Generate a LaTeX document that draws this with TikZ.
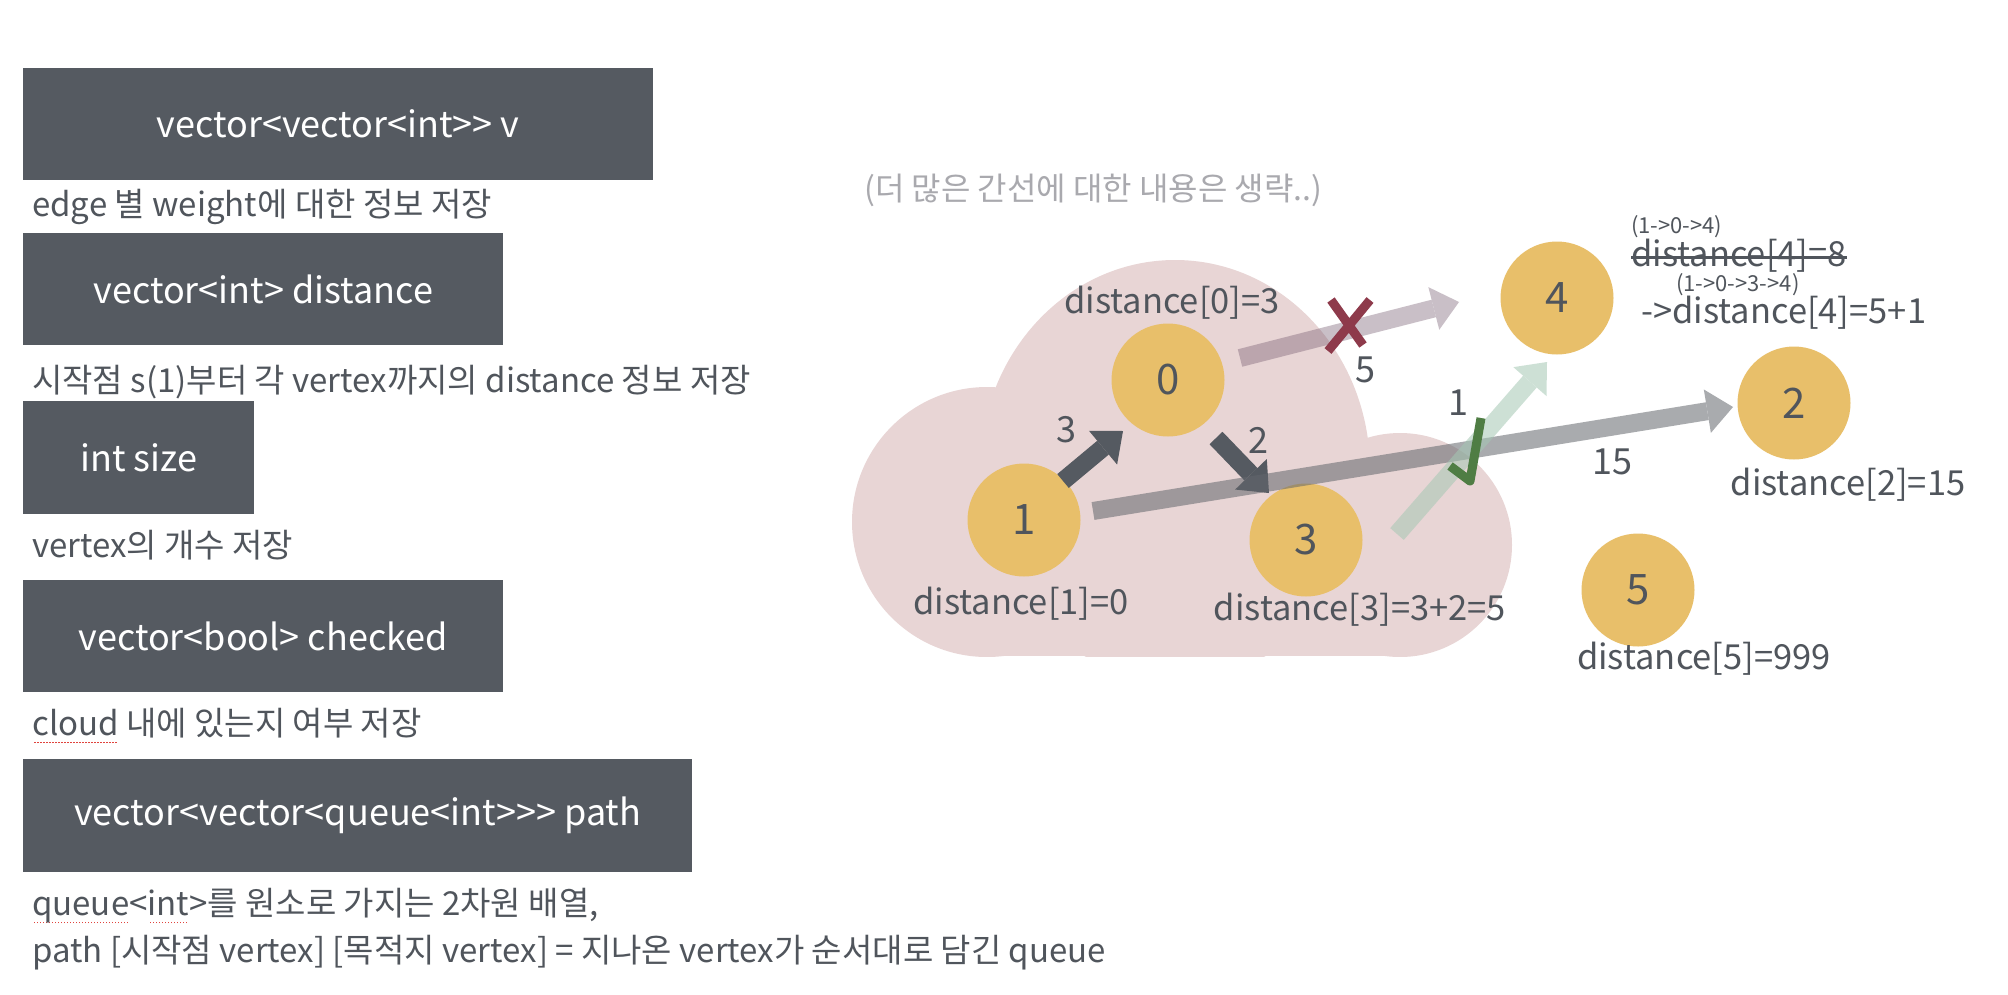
\documentclass[tikz,border=0pt]{standalone}
\usepackage{fontspec}
\setmainfont{Noto Sans CJK KR}
\usepackage{xcolor}
\usetikzlibrary{arrows.meta}

\definecolor{slate}{HTML}{555A61}
\definecolor{txtgray}{HTML}{50555C}
\definecolor{vgold}{HTML}{E8BF6A}
\definecolor{cloudpink}{HTML}{E8D5D5}
\definecolor{mauve}{RGB}{120,95,115}
\definecolor{steel}{RGB}{99,102,108}
\definecolor{sage}{RGB}{165,200,180}
\definecolor{crossred}{HTML}{8E3A4B}
\definecolor{checkgreen}{HTML}{4F7D44}
\definecolor{notegray}{HTML}{A9A9AE}
\definecolor{spellred}{HTML}{E0443E}

\newcommand{\spellmark}[1]{\setbox0\hbox{#1}\rlap{\color{spellred}\raisebox{-8pt}{\hbox to \wd0{\cleaders\hbox to 3pt{\hss\rule{1.4pt}{1.4pt}\hss}\hfill}}}#1}
\newcommand{\strikeout}[1]{\setbox0\hbox{#1}\rlap{\raisebox{0.23em}{\rule{\wd0}{2.5pt}}}#1}

\tikzset{
  codebox/.style={fill=slate, text=white, anchor=north west, inner sep=0pt, font=\fontsize{36}{44}\selectfont},
  caption/.style={anchor=base west, text=txtgray, inner sep=0pt, font=\fontsize{33}{40}\selectfont},
  vertex/.style={circle, fill=vgold, minimum size=113pt, inner sep=0pt, text=txtgray, font=\fontsize{42}{48}\selectfont},
  distlabel/.style={text=txtgray, inner sep=0pt, font=\fontsize{34.5}{40}\selectfont},
  weight/.style={text=txtgray, inner sep=0pt, font=\fontsize{36}{42}\selectfont},
  pathnote/.style={text=txtgray, inner sep=0pt, anchor=west, font=\fontsize{22}{26}\selectfont},
  edgearrow/.style={line width=18pt, -{Triangle[length=26pt, width=44pt, line width=0pt]}},
  crossmark/.style={crossred, line width=9pt},
  checkmark/.style={checkgreen, line width=9pt, line join=round},
}

\begin{document}
\begin{tikzpicture}[x=1pt,y=-1pt]
\fill[white] (0,0) rectangle (2008,994);
\useasboundingbox (0,0) rectangle (2008,994);

\node[codebox, minimum width=630pt, minimum height=112pt] (vvbox) at (23,68) {vector<vector<int>{}> v};
\node[caption] (vvnote) at (32,216) {edge 별 weight에 대한 정보 저장};
\node[codebox, minimum width=480pt, minimum height=112pt] (distbox) at (23,233) {vector<int> distance};
\node[caption] (distnote) at (32,392) {시작점 s(1)부터 각 vertex까지의 distance 정보 저장};
\node[codebox, minimum width=231pt, minimum height=113pt] (sizebox) at (23,401) {int size};
\node[caption] (sizenote) at (32,557) {vertex의 개수 저장};
\node[codebox, minimum width=480pt, minimum height=112pt] (chkbox) at (23,580) {vector<bool> checked};
\node[caption] (chknote) at (32,735) {\spellmark{cloud} 내에 있는지 여부 저장};
\node[codebox, minimum width=669pt, minimum height=113pt] (pathbox) at (23,759) {vector<vector<queue<int>{}>{}>{} path};
\node[caption] (pathnote) at (32,915) {\spellmark{queue}<\spellmark{int}>를 원소로 가지는 2차원 배열,};
\node[caption] (pathmore) at (32,962) {path [시작점 vertex] [목적지 vertex] = 지나온 vertex가 순서대로 담긴 queue};

\node[anchor=west, text=notegray, inner sep=0pt, font=\fontsize{32}{38}\selectfont] (omitnote) at (864,190) {(더 많은 간선에 대한 내용은 생략..)};

\begin{scope}
\clip (0,0) rectangle (2008,656);
\fill[cloudpink] (987,522) circle[radius=135pt];
\fill[cloudpink] (1175,470) ellipse[x radius=195pt, y radius=210pt];
\fill[cloudpink] (1400,545) circle[radius=112pt];
\fill[cloudpink] (987,460) rectangle (1400,656);
\end{scope}

\node[vertex] (n0) at (1168,380) {0};
\node[vertex] (n1) at (1024,520) {1};
\node[vertex] (n2) at (1794,403) {2};
\node[vertex] (n3) at (1306,540) {3};
\node[vertex] (n4) at (1557,298) {4};
\node[vertex] (n5) at (1638,590) {5};

\draw[edgearrow, slate] ([shift={(39,-39)}]n1.center) -- ([shift={(-45,51)}]n0.center);
\draw[edgearrow, slate] ([shift={(48,58)}]n0.center) -- ([shift={(-37,-47)}]n3.center);
\begin{scope}[transparency group, opacity=0.4]
\draw[edgearrow, mauve] ([shift={(72,-22)}]n0.center) -- ([shift={(-98,4)}]n4.center);
\end{scope}
\begin{scope}[transparency group, opacity=0.55]
\draw[edgearrow, steel] ([shift={(69,-9)}]n1.center) -- ([shift={(-61,4)}]n2.center);
\end{scope}
\begin{scope}[transparency group, opacity=0.55]
\draw[edgearrow, sage] ([shift={(91,-6)}]n3.center) -- ([shift={(-10,64)}]n4.center);
\end{scope}

\draw[crossmark] (1331,300) -- (1363,345) (1370,300) -- (1328,351);
\draw[checkmark] (1450,466) -- (1470,481) -- (1481,418);

\node[weight] (w10) at (1066,430) {3};
\node[weight] (w03) at (1258,440) {2};
\node[weight] (w04) at (1365,370) {5};
\node[weight] (w34) at (1458,403) {1};
\node[weight] (w12) at (1612,462) {15};

\node[distlabel] (d0) at (1172,303) {distance[0]=3};
\node[distlabel] (d1) at (1021,604) {distance[1]=0};
\node[distlabel] (d3) at (1360,610) {distance[3]=3+2=5};
\node[distlabel] (d2) at (1848,485) {distance[2]=15};
\node[distlabel] (d5) at (1704,659) {distance[5]=999};
\node[pathnote] (via04) at (1631,227) {(1->0->4)};
\node[distlabel, anchor=west] (d4old) at (1631,256) {\strikeout{distance[4]=8}};
\node[pathnote] (via034) at (1676,285) {(1->0->3->4)};
\node[distlabel, anchor=west] (d4new) at (1641,313) {->distance[4]=5+1};
\end{tikzpicture}
\end{document}
